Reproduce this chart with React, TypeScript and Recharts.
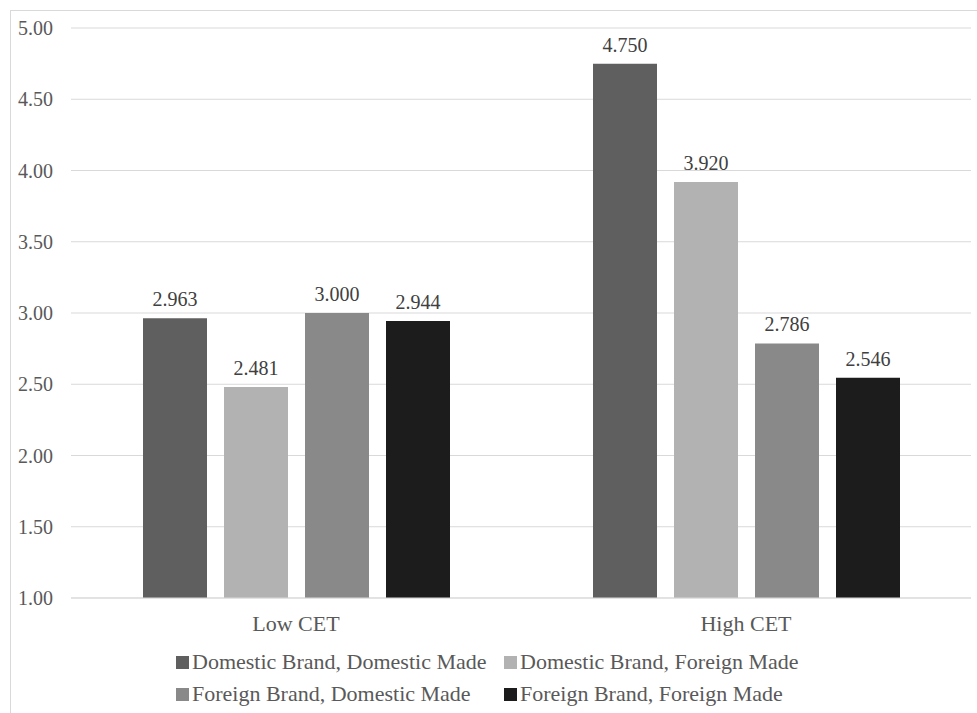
import React from 'react';
import { BarChart, Bar, XAxis, YAxis, CartesianGrid, LabelList } from 'recharts';

const categories = ['Low CET', 'High CET'];
const domesticBrandDomesticMade = [2.963, 4.75];
const domesticBrandForeignMade = [2.481, 3.92];
const foreignBrandDomesticMade = [3.0, 2.786];
const foreignBrandForeignMade = [2.944, 2.546];
const yTicks = [1, 1.5, 2, 2.5, 3, 3.5, 4, 4.5, 5];

const SERIES = [
  { key: 'ddm', name: 'Domestic Brand, Domestic Made', color: '#5f5f5f', values: domesticBrandDomesticMade },
  { key: 'dfm', name: 'Domestic Brand, Foreign Made', color: '#b2b2b2', values: domesticBrandForeignMade },
  { key: 'fdm', name: 'Foreign Brand, Domestic Made', color: '#898989', values: foreignBrandDomesticMade },
  { key: 'ffm', name: 'Foreign Brand, Foreign Made', color: '#1c1c1c', values: foreignBrandForeignMade },
];

const data = categories.map((name, i) => {
  const row: Record<string, string | number> = { name };
  SERIES.forEach(s => {
    row[s.key] = s.values[i];
  });
  return row;
});

const FONT = '"Liberation Serif", "Times New Roman", serif';

export default function App() {
  return (
    <div style={{ position: 'absolute', left: 0, top: 0, width: 977, height: 713, overflow: 'hidden', background: '#fff', fontFamily: FONT }}>
      <div style={{ position: 'absolute', left: 10, top: 10, width: 980, height: 720, borderTop: '1px solid #d9d9d9', borderLeft: '1px solid #d9d9d9' }} />
      <div style={{ position: 'absolute', left: 0, top: 0 }}>
        <BarChart
          width={977}
          height={713}
          data={data}
          margin={{ top: 28, right: 6, left: 0, bottom: 85 }}
          barSize={64}
          barGap={17}
          style={{ fontFamily: FONT }}
        >
          <CartesianGrid vertical={false} stroke="#d9d9d9" strokeWidth={1} />
          <XAxis
            dataKey="name"
            height={30}
            axisLine={{ stroke: '#d9d9d9' }}
            tickLine={false}
            tickMargin={11}
            tick={{ fill: '#595959', fontSize: 22, fontFamily: FONT }}
          />
          <YAxis
            width={71}
            domain={[1, 5]}
            ticks={yTicks}
            interval={0}
            axisLine={false}
            tickLine={false}
            tickMargin={12}
            tickFormatter={(v: number) => v.toFixed(2)}
            tick={{ fill: '#595959', fontSize: 20, fontFamily: FONT }}
          />
          {SERIES.map(s => (
            <Bar key={s.key} dataKey={s.key} name={s.name} fill={s.color} isAnimationActive={false}>
              <LabelList
                dataKey={s.key}
                position="top"
                offset={12}
                formatter={(v: number) => Number(v).toFixed(3)}
                fill="#404040"
                fontSize={20}
                fontFamily={FONT}
              />
            </Bar>
          ))}
        </BarChart>
      </div>
      <div
        style={{
          position: 'absolute',
          left: 176,
          top: 650,
          display: 'grid',
          gridTemplateColumns: '328px auto',
          rowGap: 8,
          color: '#595959',
          fontSize: 22,
          lineHeight: '24px',
        }}
      >
        {SERIES.map(s => (
          <div key={s.key} style={{ display: 'flex', alignItems: 'center', whiteSpace: 'nowrap' }}>
            <span style={{ display: 'inline-block', width: 13, height: 13, background: s.color, marginRight: 3 }} />
            <span>{s.name}</span>
          </div>
        ))}
      </div>
    </div>
  );
}
